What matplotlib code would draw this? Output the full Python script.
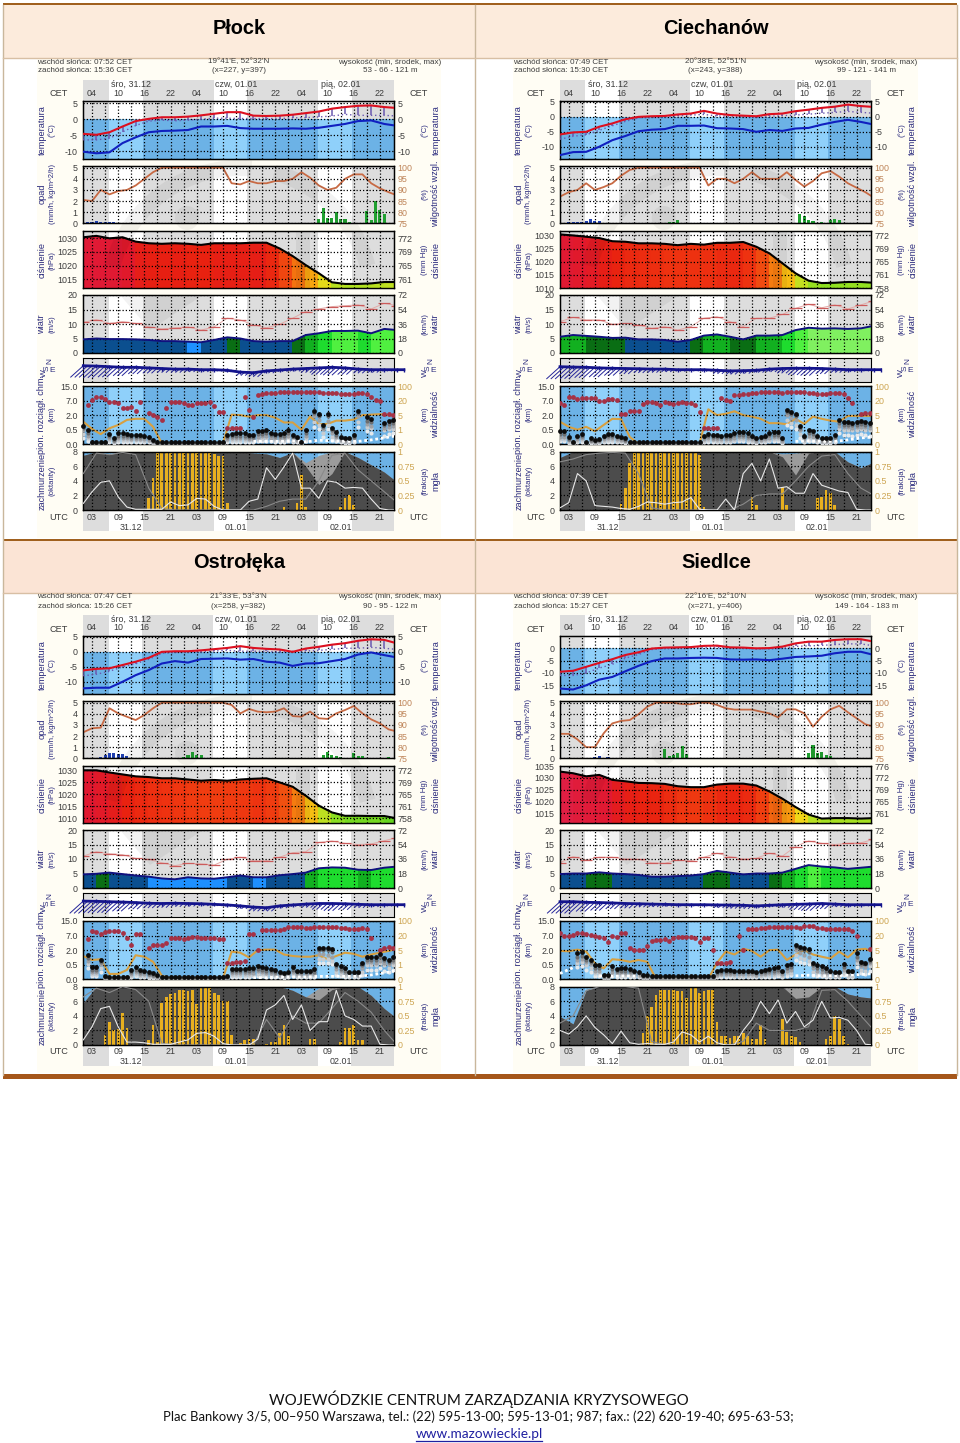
import numpy as np
import matplotlib
matplotlib.use("Agg")
import matplotlib.pyplot as plt
from matplotlib.colors import LinearSegmentedColormap, Normalize, ListedColormap, BoundaryNorm
from matplotlib.patches import Rectangle, Wedge, Polygon
from matplotlib.lines import Line2D

plt.rcParams['font.family'] = ['Liberation Sans', 'DejaVu Sans']

_ = float('nan')

# labels
hours_cet = ['04', '10', '16', '22'] * 3
hours_utc = ['03', '09', '15', '21'] * 3
day_names = ['śro, 31.12', 'czw, 01.01', 'pią, 02.01']
day_dates = ['31.12', '01.01', '02.01']
wind_labels = ['72', '54', '36', '18', '0']
base_ticks = [0, 0.5, 2, 7, 15]
base_labels = ['0.0', '0.5', '2.0', '7.0', '15.0']
vis_ticks = [0, 1, 5, 20, 100]
fog_labels = ['0', '0.25', '0.5', '0.75', '1']
mmhg = {1035: '776', 1030: '772', 1025: '769', 1020: '765', 1015: '761', 1010: '758'}

# Płock
plock_title = 'Płock'
plock_sun = ['07:52', '15:36']
plock_pos = ["19°41'E, 52°32'N", '(x=227, y=397)']
plock_alt = '53 - 66 - 121 m'
plock_temp_ticks = [5, 0, -5, -10]
plock_temp_lim = [-12.4, 5.7]
plock_press_ticks = [1030, 1025, 1020, 1015]
plock_press_lim = [1011.7, 1032.8]
plock_temp = [-4.6, -4.9, -4.1, -2.3, -.6, .1, .6, .6, .8, 1.2, 1.7, 2.2, 2.2, 1.1, 1, 1.1, 1.4, 1.9, 2.4, 3.3, 3.8, 4.2, 4.3, 3.8, 3.5]
plock_dew = [-10.2, -10.7, -10.4, -7.5, -5.7, -4.1, -3.7, -3.6, -3.4, -2.3, -2.3, -2.1, -2.8, -3, -3, -3, -2.9, -3, -2.7, -2.1, -1.5, -.6, -.4, -1.5, -2.1]
plock_low = [-6.5, -6.5, -6, -4, -2, -.6, -.3, -.5, -.3, 0, .3, .3, .2, .2, .2, .2, .4, .5, .7, 1, 1.5, 1.2, 1.2, 1.2, 1]
plock_hum = [85.5, 85, 90, 88, 89.5, 90, 92, 95, 98, 100, 100, 100, 100, 100, 100, 100, 100, 93, 92.5, 94, 93, 93, 94, 94, 95, 98, 95.5, 92, 90, 91, 95, 97, 97, 93, 90.7, 89, 87.5]
plock_press = [1030.4, 1030.9, 1030, 1030.4, 1028.8, 1028.2, 1028, 1028.2, 1028, 1027.6, 1028.2, 1028.2, 1028.2, 1028.4, 1028.4, 1026.3, 1023.5, 1020.2, 1017.2, 1013.9, 1013.3, 1013.3, 1013.5, 1014, 1014]
plock_wind = [4.7, 5, 4.8, 4.8, 4.7, 4.5, 4.1, 4.1, 3.9, 3.7, 4.5, 5.4, 5, 4.1, 3.9, 4.1, 4.1, 6.2, 6.8, 7.6, 7.6, 7.7, 6.8, 8.3, 7.9]
plock_gust = [10.6, 11.5, 10.2, 10.8, 10.2, 9, 8.3, 8.7, 9, 7.9, 9, 12, 11.4, 9.7, 8.7, 9.9, 12, 14.3, 15.2, 16, 16.3, 16.6, 15.2, 17.1, 16.3]
plock_dir = [.33, .3, .25, .2, .2, .15, .1, .05, .05, 0, 0, -.05, -.2, -.25, -.1, -.03, .05, .1, .15, .2, .15, .05, 0, 0, 0]
plock_barb = [.9, .9, .8, .65, .5, .4, .3, .25, .2, .15, .1, .1, .25, .3, .15, .1, .15, .3, .5, .6, .5, .3, .2, .1, .1]
plock_vis = [3.2, 1.2, .7, 1.4, 2.3, 3.7, 4, 4, 1.8, .07, .05, .05, .05, .05, .05, .05, .05, 5.5, 5, 4.6, 5, 5, 4.3, 3, 3, 1, 4.6, 2.5, 2.6, 3.5, 3.5, 3.8, 5, 5.5, 6, 5, 5]
plock_upper = [_, 5.5, 7.3, 9.2, 8.8, 7.6, 6.6, 6.4, 6, 4.3, 4.5, 4.9, 3.5, 6.6, _, 2.6, 2.2, 1.8, 1.5, 4.3, 6.4, 6.4, 6.4, 6, 5.5, 5.5, 6, 6, 6, 6.4, 5.2, 3.2, 3.1, .65, .65, .65, .65, 8.8, 3.8, 1.85, 10, 10.6, 11, 11, 11.4, 11.7] + [11.9] * 9 + [11.3, 11, 11, 11, 10.8, 10.7, 10.6, 10.8, 11, 11, 10.5, 8.8, 7.3, 7, 2.3, 2.3, 2.1]
plock_lower = [.9, .5, .07, .07, .07, .07, .36, .2, .38, .38, .36, .33, .33, .33, .3, .26, .15] + [.07] * 16 + [.33, .36, .38, .38, .38, .33, .33, .45, .47, .5, .4, .36, .36, .38, .5, .32, .26, .09, .5, _, 3.3, 2.5, 1, 2.4, .65, .43, .26, .22, .22, .32, 3.3, _, 1.85, 1.6, _, _, 1.2, 1.35, 1.5]
plock_white = [_] * 13 + [.1, .1, .1, .12, .08, .14, .12, .1, .1, .15, .22, .3]
plock_cloud = [7.5, 8, 7.6, 8, 8, 7.9, 8, 8, 8, 8, 8, 8, 8, 7.8, 7.7, 7.2, 7.9, 6.5, 7.5, 8, 8, 7.2, 6.2, 5.2, 3.8]
plock_dense = [7.5, 8, 7.6, 8, 8, 7.9, 8, 8, 8, 8, 8, 8, 8, 7.8, 7.7, 7.2, 7.9, 6, 3.5, 5, 8, 7.2, 6.2, 5.2, 3.8]
plock_lowline = [.9, 2.5, 3.8, 4, 1.8, .4, .1, .1, .1, .1, 1.1, .6, .7, 1.6, 1.5, .5, 0, 0, 0, 1.2, 1.5, 5.8, 4.2, 5.9, 7.8, 3, 3, 1.6, 4, 3.8, 3, 3.1, 3, 1.5, .2, 0, 0]
plock_midline = [5, 7.8, 7.6, 7.9, 7.6, 3, .2, 0, 0, 0, 0, 0, 0, 0, .5, 1.2, 1.5, 1.5, 4, 7.5, 7.8, 5.5, 4, 2.5, 1]
plock_fog = [0] * 15 + [.2, .55, 1, 1, 1, 1, 1, 1, 1, 1, .98, 1, .98, .98, .97, .96, .93, .93, .12] + [0] * 12 + [.05] + [0] * 2 + [.12, .6, .05] + [0] * 7 + [.05, .2, .25, .08] + [0] * 9
plock_snow_t = [1, 2, 3, 4, 5, 6, 7, 8]
plock_snow = [.02, .08, .15, .2, .15, .1, .15, .1]
plock_rain_t = [25, 26, 55, 56, 57, 58, 59, 60, 61, 62, 63, 65, 66, 67, 68, 69, 70]
plock_rain = [.03, .05, .4, 1.4, .45, .5, 1, .4, .4, .15, .05, .05, 1.1, .3, 2, 1.2, .8]

# Ciechanów
cie_title = 'Ciechanów'
cie_sun = ['07:49', '15:30']
cie_pos = ["20°38'E, 52°51'N", '(x=243, y=388)']
cie_alt = '99 - 121 - 141 m'
cie_temp_ticks = [5, 0, -5, -10]
cie_temp_lim = [-14, 5.3]
cie_press_ticks = [1030, 1025, 1020, 1015, 1010]
cie_press_lim = [1009.9, 1031.8]
cie_temp = [-5.9, -5.2, -5, -3.3, -2.2, -.8, 0, .2, .3, .8, 1.1, 2, 1.1, .6, .4, .2, .9, 1.1, 1.9, 2.4, 3, 3.4, 4.1, 3.6, 3.3]
cie_dew = [-12.8, -11.8, -11.7, -10, -7.8, -6.4, -4.8, -4.3, -4.1, -3, -3, -2.9, -3.8, -3.9, -4.1, -5, -4.4, -4.7, -3.9, -3.7, -2.6, -1.7, -1, -1.7, -2.6]
cie_low = [-7.5, -6.5, -6, -4.5, -3, -1.5, -.3, -.2, 0, .3, .6, .8, .3, .2, .1, -.2, .2, .4, .6, .9, 1.2, 1.5, 1.8, 1.5, 1.2]
cie_hum = [87, 89, 90, 93, 90, 91.3, 93, 96.4, 99, 100, 100, 100, 100, 100, 100, 100, 100, 92, 95, 95, 93, 95, 98, 95, 95, 95, 98, 94.5, 91.5, 94, 97.5, 98.5, 96, 93, 91, 89, 86.5]
cie_press = [1030.4, 1030, 1029.5, 1029, 1027.8, 1027.6, 1027, 1027, 1026.8, 1026.3, 1026.8, 1026.5, 1027.2, 1027.2, 1027.5, 1025.7, 1023.2, 1019.4, 1015.6, 1012.8, 1011.9, 1012, 1012.3, 1012.3, 1012]
cie_wind = [5.6, 6.2, 5.9, 5.6, 5.2, 5.3, 4.7, 4.7, 4.5, 3.9, 4.5, 6, 6.4, 5.6, 4.7, 6, 6, 6.2, 7.9, 8.7, 8.4, 8.5, 8.3, 8.5, 9.4]
cie_gust = [10.8, 12.3, 11.4, 11.4, 9.9, 10.2, 9.7, 8.5, 9.1, 7.9, 9.1, 12, 12.5, 10.8, 9.1, 12, 12, 13.3, 15.4, 16.8, 15.6, 16.6, 15.2, 16.6, 18]
cie_dir = [.25, .22, .2, .15, .12, .1, .08, .05, .05, 0, 0, 0, -.05, -.1, -.08, -.05, .05, .1, .12, .12, .1, .05, 0, 0, 0]
cie_barb = [.95, .9, .8, .7, .55, .4, .3, .25, .2, .12, .1, .12, .25, .25, .2, .15, .2, .35, .5, .55, .4, .25, .15, .1, .1]
cie_vis = [3.2, 1.8, 1, 1.8, .9, 2.3, 4, 3.9, .5, .02, .03, .03, .03, .03, .03, .03, .05, 11, 5, 6.4, 9, 5, 4.6, 4, 2.8, 2.8, 2.5, 4, 2.6, 4.6, 4, 3.5, 3.2, 4.8, 4.8, 4.8, 4.8]
cie_upper = [6.2, 5.5, 9.2, 9.2, 7.8, 8.6, 8.6, 8.6, 8.2, 7, 7, 7.8, 7.8, 7.3, 2.4, 2.4, 3.3, 3.3, 3.3, 5.7, 6.6, 6.4, 6.2, 5.5, 6.4, 6, 5.8, 6.2, 6.4, 6.1, 6, 5.5, 3.2, .65, .65, .65, .7, 8.2, 7.3, 7, 9.8, 10.3, 10.6, 10.8, 11, 11.3] + [11.9] * 5 + [11, 11.5, 11.5, 11.7, 11.9, 11.9, 11, 11, 10.8, 10.8, 10.8, 11, 11, 11, 10.8, 8.6, 6, _, 2.5, 2.7, 2.8]
cie_lower = [.45, .45, .24, .09, .3, .36, .07, .2, .15, .18, .3, .35, .35, .3, .26, .2, .09] + [.07] * 16 + [.3, .36, .33, .32, .3, .32, .32, .4, .42, .42, .38, .3, .22, .26, .3, .4, .42, .42, .22, 3.8, 3, 2.5, .9, .3, .5, .45, .3, .22, .2, .2, .32, 1.5, 1.3, 1.3, 1.2, 1.3, 1.4, 1.3, 1.2]
cie_white = [_] * 18 + [.1, .12, .1, .1, .15, .22, .25]
cie_cloud = [7.2, 8, 8, 8, 8, 8, 8, 8, 8, 8, 8, 8, 8, 8, 8, 8, 8, 7.7, 7.8, 8, 8, 8, 6.6, 5.8, 6.6]
cie_dense = [7.2, 8, 8, 8, 8, 8, 8, 8, 8, 8, 8, 8, 8, 8, 8, 8, 8, 7.3, 4.8, 7.8, 8, 8, 6.6, 5.8, 6.6]
cie_lowline = [.3, 1, 5, 4, .6, .5, .4, .2, .1, .5, 1.1, 1, .8, 1, 1.1, 1.7, .1, 0, 0, 1.5, 0, 5, 6.4, 4, 7, 3, 3.2, 2.3, 2.3, 5, 3.4, 3, 2.6, 2.4, .1, 0, 0]
cie_midline = [6.6, 7, 7.6, 7.8, 7.9, 7.8, 5, .3, 0, 0, 0, 0, 0, 0, .8, 2, 2.2, 2.2, 4, 6, 7.4, 7.6, 5, 3, 2]
cie_fog = [0] * 14 + [.1, .38, .8] + [1, 1, 1, 1, 1, 1, 1, 1, 1, 1, 1, 1, .98, .98, .97] + [.95, .05] + [0] * 10 + [.22, .08] + [0] * 5 + [.4, .08] + [0] * 6 + [.2, .22, .35, .3, .08] + [0] * 8
cie_snow_t = [2, 3, 4, 5, 6, 7, 8, 9, 10, 11]
cie_snow = [.05, .1, .12, .1, .15, .2, .4, .25, .2, .05]
cie_rain_t = [24, 25, 26, 27, 28, 56, 57, 58, 59, 60, 61, 62, 63, 64, 65]
cie_rain = [.03, .05, .1, .15, .3, .85, .7, .3, .2, .05, .15, .05, .3, .4, .3]

# Ostrołęka
ost_title = 'Ostrołęka'
ost_sun = ['07:47', '15:26']
ost_pos = ["21°33'E, 53°3'N", '(x=258, y=382)']
ost_alt = '90 - 95 - 122 m'
ost_temp_ticks = [5, 0, -5, -10]
ost_temp_lim = [-14, 5.3]
ost_press_ticks = [1030, 1025, 1020, 1015, 1010]
ost_press_lim = [1008, 1031.8]
ost_temp = [-6.2, -5.7, -5.5, -4.4, -3.3, -2, 0, .2, .2, .5, .9, 1.3, 1.9, 1.3, 1, .8, 0, 1.1, 1.7, 2.4, 2.9, 3.7, 4.2, 4, 2.8]
ost_dew = [-12.2, -12, -12, -10, -7.8, -6.1, -3.9, -3.1, -3.6, -2.4, -2.3, -2.2, -2.6, -2.4, -3.3, -3.6, -4.7, -3.9, -3.8, -3.1, -2.4, -.9, -.2, -1.1, -1.9]
ost_low = [-8, -7.5, -6.5, -5, -4, -2.5, -.5, -.2, 0, 0, .3, .5, .2, .2, .2, -.1, .2, .3, .5, .8, 1.2, 1.2, 1.5, 1.2, .8]
ost_hum = [86.7, 88.5, 88.8, 97.5, 95.2, 93.7, 92.2, 94.5, 97.5, 100, 100, 100, 100, 100, 100, 100, 100, 99, 95.2, 97.2, 96, 95.7, 96, 97.5, 94, 93.7, 96, 93, 92.7, 95.2, 96.7, 98.5, 95.2, 92.5, 90.7, 88, 87]
ost_press = [1029.9, 1029.9, 1029, 1028.2, 1027.4, 1027.1, 1026.6, 1026.6, 1026.1, 1025.6, 1025.9, 1025.6, 1026.1, 1026.4, 1026.6, 1024.9, 1023.1, 1019.4, 1015.3, 1012.5, 1011.1, 1011.1, 1011, 1011, 1010]
ost_wind = [4.7, 4.9, 5.3, 4.8, 4.3, 3.9, 3.3, 3, 3.7, 3.3, 3.2, 3.7, 4.3, 3.7, 3.7, 4.4, 4.8, 5.3, 6.8, 7.1, 7, 6.3, 6.2, 7, 7.4]
ost_gust = [11, 12.5, 11.8, 11.5, 10.2, 9.9, 8.7, 7.7, 8.5, 8.3, 7.9, 9.9, 10.6, 9.4, 9.4, 10.6, 12.2, 12.5, 15.7, 16.2, 15.4, 15, 15.2, 16.3, 17.4]
ost_dir = [.3, .28, .25, .22, .18, .12, .1, .12, .1, .08, .03, -.02, -.1, -.2, -.25, -.1, -.02, .05, .1, .1, .08, .03, 0, 0, 0]
ost_barb = [.95, .9, .85, .7, .5, .35, .3, .25, .2, .15, .1, .1, .2, .3, .25, .15, .1, .25, .45, .55, .45, .25, .15, .1, .1]
ost_vis = [3.4, 2.3, 2.5, .37, .37, .64, 3.6, 3.2, 1.8, .25, .05, .05, .05, .05, .05, .05, .05, 4.6, 4.3, 3, 5, 5.5, 5.5, 3.8, 3.4, 3.2, 3.2, 3.6, 2.5, 3.4, 4.3, 4, 3.2, 3.8, 4.3, 4.8, 6.4]
ost_upper = [_, 5.7, 9.6, 9.2, 7.8, 9, 9.4, 9.4, 9.4, 8.2, 6.2, 3.8, 8, 8, _, 2.6, 3.8, 3.8, 3.6, 4.5, 6.2, 6.2, 6, 5.8, 6.2, 6.4, 6.4, 6.2, 6.2, 6.2, 6, 5.8, 5.7, .65, .7, .75, .8, .9, 7.8, 7.8, 2, 9.8, 10, 10, 10.3, 10.3, 10.5, 11.5, 11.7, 11.9, 11.7, 11.2, 11.2, 11.5, 11.7, 11.7, 11.7, 11.7, 11.7, 11.2, 11, 10.8, 10.8, 10.8, 11, 10.6, 6.2, _, 2.1, 2.7, 3.2, 2.6]
ost_lower = [_, 1.5, .43, .43, 1, .12, .09, .09, .09, .09, .09, .32, .43, .32, .3, .24, .2, .15] + [.09] * 15 + [.1, .36, .36, .36, .36, .38, .4, .47, .42, .38, .36, .33, .26, .22, .26, .42, .3, .3, .3, .3, .34, 2.7, 2.7, 2.6, 2.3, .6, .47, .38, .26, .26, .26, .65, 1.3, 1.3, 1.25, 1.6, 1.2, 1, 1.3]
ost_white = [_] * 13 + [.05, .05, .08, .08, .08, .1, .1, .1, .1, .15, .22, .3]
ost_cloud = [5.8, 8, 8, 8, 8, 8, 8, 8, 8, 8, 8, 8, 8, 8, 8, 8, 7.5, 6.6, 7.8, 8, 8, 8, 6.8, 5, 3.6]
ost_dense = [5.8, 8, 8, 8, 8, 8, 8, 8, 8, 8, 8, 8, 8, 8, 8, 8, 7.5, 6.6, 6.2, 7.6, 8, 8, 6.8, 5, 3.6]
ost_lowline = [.7, 2.5, 5, 5.3, 2.5, .4, .4, .3, .1, .1, .1, .4, .7, 1.6, 1.7, 1.2, .2, 0, 0, 0, .8, 4.8, 5.5, 6.8, 3.5, 5.5, 2, 3.2, 3.2, 7.5, 4, 3.5, 2.6, 2.6, .1, 0, 0]
ost_midline = [6.6, 7.8, 7.2, 8, 7.6, 6, .2, 0, 0, 0, 0, 0, 0, 0, 3.5, 1, 4, 3, 3, 5, 7.2, 6, 4.5, 2, 0]
ost_fog = [0] * 5 + [.18, .4, .25, .27, .55, .3] + [0] * 4 + [.08, .35, .05, .72, .82, .88, .9, .95, .95, .92, .95, .7, .98, 1, .98, .9, .85, .75, .75, .18] + [0] + [.03, .08, .1, .1] + [0] * 2 + [.02, .05, .05, .2, .35, .15] + [0] * 4 + [.1, .1] + [0] * 5 + [.05, .3, .3, .35, .08, .08] + [0] * 7
ost_snow_t = [3, 4, 5, 6, 7, 8, 9, 10, 11]
ost_snow = [.05, .05, .1, .3, .5, .5, .35, .4, .25]
ost_rain_t = [23, 24, 25, 26, 27, 28, 56, 57, 58, 59, 60, 63, 64, 65, 71]
ost_rain = [.05, .1, .3, .55, .3, .3, .3, .6, .3, .2, .1, .5, .2, .2, .1]

# Siedlce
sie_title = 'Siedlce'
sie_sun = ['07:39', '15:27']
sie_pos = ["22°16'E, 52°10'N", '(x=271, y=406)']
sie_alt = '149 - 164 - 183 m'
sie_temp_ticks = [0, -5, -10, -15]
sie_temp_lim = [-18.4, 5]
sie_press_ticks = [1035, 1030, 1025, 1020, 1015]
sie_press_lim = [1010.8, 1035.2]
sie_temp = [-9.5, -9.1, -7.5, -5.9, -4.4, -2.7, -1.6, -.1, .3, .4, .5, 1, 1.1, .4, .3, 0, .1, .7, 2, 2.7, 2.7, 3.4, 3.7, 3.7, 2.7]
sie_dew = [-16.3, -16.7, -15, -12.7, -11.6, -9.3, -7.1, -5.2, -4.1, -4.1, -3.9, -3.8, -3.9, -4.5, -4.6, -4.5, -4.8, -4.2, -3.5, -3.3, -3, -2, -1.4, -1.4, -2.7]
sie_low = [-11, -11, -10, -8, -6.5, -4, -2.5, -.5, -.1, .1, .2, .4, .4, .2, .1, -.3, -.2, 0, .8, 1, 1.2, 1.5, 1.8, 1.8, 1]
sie_hum = [86, 86, 83.5, 80, 80, 86.2, 90.7, 91.8, 92.2, 94.8, 98.2, 100, 100, 100, 99.4, 99.3, 100, 100, 99, 97.5, 96.9, 96.9, 96.9, 96, 95.2, 93.4, 97, 97, 95.2, 89.2, 93.7, 97, 98.6, 95.7, 93, 90.3, 89.2]
sie_press = [1032.7, 1032, 1030.7, 1031.3, 1029.2, 1028.6, 1027.9, 1027.8, 1027.5, 1026.5, 1026.1, 1026.1, 1027.2, 1027.6, 1027.6, 1026.8, 1024.3, 1021.2, 1017.7, 1014.5, 1012.8, 1013, 1013, 1012.8, 1013]
sie_wind = [4.8, 5, 5, 5.4, 5, 4.8, 4.5, 3.9, 3.9, 4.1, 4.3, 4.8, 5.9, 5.3, 4.7, 5, 5, 5.3, 6.6, 7.9, 7.4, 7.1, 6.6, 7, 7.4]
sie_gust = [8.7, 10.8, 9.7, 10.6, 10.6, 10, 9.9, 8.7, 8.5, 9.7, 9.4, 10.6, 12, 10.8, 10, 10.2, 12, 11, 14.3, 16.2, 15.4, 15, 15.4, 15.6, 16.8]
sie_dir = [.25, .25, .2, .18, .15, .1, .08, .05, .03, 0, 0, 0, -.02, -.03, -.05, -.1, -.05, 0, .03, .06, .1, .05, 0, 0, 0]
sie_barb = [.9, .9, .7, .6, .45, .35, .25, .2, .15, .1, .1, .1, .2, .25, .25, .15, .1, .2, .4, .5, .4, .2, .15, .1, .05]
sie_vis = [4.8, 4.7, 5.5, 4.6, 1.4, .75, 2.5, 2.3, 1.8, 2.3, 1.8, .03, .03, .03, .03, .03, .03, .03, 1.5, 4.6, 3.8, 6.4, 4.8, 3.2, 5, 5.5, 2.3, 3.8, 5, 3.8, 3.2, 2.7, 4.6, 3, 5.5, 6.4, 4.3]
sie_upper = [8.2, 7, 7, 7.3, 8.2, 8.6, 7.6, 7.3, 7, 6.6, 6.2, 4.9, 6.8, 6.6, 8.6, 8.2, 2.6, 2.1, 2.1, 2, 3.5, 5.3, 5.4, 5.5, 5.7, 5.1, 6.2, 6.4, 6.4, 6.5, 6.5, 6, 4.9, 6, 6.2, 2, .65, .65, .7, .8, _, 6.8, 2.1, 10.6, 10.6, 10.6, 11, 11.2, 11.6, 11.8, 11.8, 11.8, 11.8, 11.8, 11.8, 11.2, 12.5, 12.5, 12, 11, 11, 10.8, 10.8, 10.8, 10.8, 10.8, 10.8, 9.6, 7, _, _, 2.3]
sie_lower = [_, _, _, _, 1.7, 1.85, 1.3, .95, .5, .5, .15, .15, .45, .36, .38, .38, .36, .3, .26, .15, .15, .1] + [.1] * 14 + [.28, .33, .33, .33, .3, .3, .3, .3, .3, .26, .3, .33, .36, .38, .42, .3, .5, .55, 3.8, 3, 2.6, 2.3, .65, .5, .45, .38, .3, .26, .26, .55, .3, .3, 1.7, .8, .7, 1.1]
sie_white = [.2, .4, _, .12, .1, .12, .1] + [_] * 11 + [.12, .14, .12, .12, .14, .16, .2]
sie_cloud = [3.9, 2.9, 7.5] + [8] * 19 + [7, 6.6, 6.4]
sie_dense = [3.9, 2.9, 7.5] + [8] * 15 + [6.4, 6.6] + [8] * 2 + [7, 6.6, 6.4]
sie_lowline = [2, 1.5, 2.5, 4, 2.4, 1.4, .2, 1.9, .3, .1, .2, .1, .1, .4, 1.8, 1.4, .4, 1.2, .3, 0, 0, 2, 3.5, 6, 4.3, 6.2, 3, 4.6, 2.5, 3.4, 6, 3.7, 3.8, 3.4, 2, .1, 0]
sie_midline = [3, 4, 7.5, 8, 8, 8, 7.8, .5, 0, 0, 0, 0, 0, 0, .5, 3, 2, 2, 2, 2.5, 7.5, 7.6, 6, 4, 2]
sie_fog = [0] * 19 + [.2, .5, .65, .85, .95, .95, .95, .95, .93, .93, .8, .98, .98, .9, .92, .95, .95, .4, .15, .15, .12, .15, .15, .2, .15, .1, .1, .35, .1] + [0] * 3 + [.45, .22, .15, .13, .05] + [0] * 5 + [.1, .15, .5, .45, .15, .02] + [0] * 5
sie_snow_t = [9, 10, 11, 12]
sie_snow = [.1, .2, .05, .12]
sie_rain_t = [24, 25, 26, 27, 28, 29, 30, 58, 59, 60, 61, 62, 63, 64]
sie_rain = [.05, .8, .2, .3, .5, 1.1, .4, .5, 1.2, .5, .6, .3, .2, .05]

W, H = 960, 1443
fig = plt.figure(figsize=(W / 100, H / 100), dpi=100, facecolor='white')

TX = (1, 72.3)
NAVY = '#2B2B7E'
GREY = '#3C3C3C'
TAN = '#BE8458'
GOLD = '#CDA552'
GRID = dict(color='black', ls=(0, (1, 1.6)), lw=0.9)

press_cmap = LinearSegmentedColormap.from_list('press', [
    (0, '#58D020'), (2 / 23, '#90E020'), (4 / 23, '#C0E020'), (6 / 23, '#F0D818'), (8 / 23, '#F8B010'),
    (11 / 23, '#F58010'), (14 / 23, '#F05010'), (16 / 23, '#F03A10'), (18 / 23, '#E82010'),
    (20 / 23, '#E01830'), (1, '#E02048')])
press_norm = Normalize(1010, 1033)
wind_cmap = ListedColormap(['#1E90FF', '#0B4F8F', '#0A6E14', '#12B020', '#1EDC2E', '#50F040', '#80F060'])
wind_norm = BoundaryNorm([0, 3.85, 5.1, 5.9, 6.6, 7.5, 8.4, 25], 7)


def fwd(ticks):
    pos = np.arange(len(ticks), dtype=float)
    return lambda v: np.interp(v, ticks, pos)


def inv(ticks):
    pos = np.arange(len(ticks), dtype=float)
    return lambda v: np.interp(v, pos, ticks)


def px_axes(x0, y0, x1, y1, z=1):
    a = fig.add_axes([x0 / W, 1 - y1 / H, (x1 - x0) / W, (y1 - y0) / H])
    a.set_zorder(z)
    a.set_xlim(*TX)
    return a


page = fig.add_axes([0, 0, 1, 1], zorder=0)
page.set_xlim(0, W)
page.set_ylim(H, 0)
page.axis('off')
over = fig.add_axes([0, 0, 1, 1], zorder=20)
over.set_xlim(0, W)
over.set_ylim(H, 0)
over.axis('off')
over.patch.set_alpha(0)


def sun_spans(sun):
    rise = int(sun[0][:2]) + int(sun[0][3:]) / 60 - 1
    sett = int(sun[1][:2]) + int(sun[1][3:]) / 60 - 1
    edges = [1, rise, sett, rise + 24, sett + 24, rise + 48, sett + 48, TX[1]]
    return [(edges[i], edges[i + 1], i % 2 == 1) for i in range(7)]


def paint(a, spans, night, day, lo=None, hi=None):
    y0, y1 = a.get_ylim()
    lo = y0 if lo is None else lo
    hi = y1 if hi is None else hi
    for t0, t1, is_day in spans:
        a.fill_between([t0, t1], lo, hi, color=day if is_day else night, lw=0, zorder=0.5)


def panel(box, ylim, ticks, labels, rticks, rlabels, rcolor=GREY, rlim=None, scale=None, rscale=None):
    # right axes sits below: background and right-hand series; left axes on top with the grid
    x0, y0, x1, y1 = box
    rax = px_axes(x0, y0, x1, y1, z=2)
    ax = px_axes(x0, y0, x1, y1, z=3)
    ax.patch.set_visible(False)
    if scale:
        ax.set_yscale('function', functions=(fwd(scale), inv(scale)))
    ax.set_ylim(*ylim)
    if rscale:
        rax.set_yscale('function', functions=(fwd(rscale), inv(rscale)))
    rax.set_ylim(*(rlim if rlim else ylim))
    ax.set_yticks(ticks)
    ax.set_yticklabels(labels)
    ax.minorticks_off()
    rax.minorticks_off()
    rax.set_xticks([])
    rax.yaxis.tick_right()
    rax.set_yticks(rticks)
    rax.set_yticklabels(rlabels)
    ax.set_xticks(np.arange(3, 72, 3))
    ax.tick_params(axis='x', length=0, labelbottom=False)
    ax.tick_params(axis='y', length=0, labelsize=6.4, pad=4, labelcolor=GREY)
    rax.tick_params(axis='y', length=0, labelsize=6.4, pad=2.5, labelcolor=rcolor)
    ax.grid(True, **GRID)
    ax.set_axisbelow(False)
    for s in ax.spines.values():
        s.set_linewidth(1.0)
    return ax, rax


def fill_segments(ax, t, v, bottom, cmap, norm):
    for i in range(len(v) - 1):
        ax.fill_between(t[i:i + 2], v[i:i + 2], bottom, facecolor=cmap(norm((v[i] + v[i + 1]) / 2)),
                        lw=0, antialiased=False, zorder=1)


def vtext(x, y, s, color=NAVY, size=6.6):
    over.text(x, y, s, rotation=90, ha='center', va='center', fontsize=size, color=color)


def meteogram(key, dx, dy):
    g = lambda name: globals()[f'{key}_{name}']
    X0, X1 = 83.3 + dx, 394.3 + dx
    spans = sun_spans(g('sun'))
    page.add_patch(Rectangle((36.5 + dx, 58 + dy), 404.5, 480, color='#FFFDF4', lw=0))

    t3 = 1 + 3 * np.arange(25)
    temp, dew, low = np.array(g('temp')), np.array(g('dew')), np.array(g('low'))

    # day / night header bands
    for y0, y1, labs, rows in ((80, 101, hours_cet, day_names), (510, 531, hours_utc, day_dates)):
        band = px_axes(X0, y0 + dy, X1, y1 + dy)
        band.set_ylim(0, 1)
        band.axis('off')
        paint(band, spans, '#DDDDDD', '#FFFFFF')
    for i, lab in enumerate(hours_cet):
        tx = 3 + 6 * i
        px = 92 + dx + (tx - 3) * 4.362
        over.text(px, 93 + dy, lab, ha='center', va='center', fontsize=6.4, color=GREY)
        over.text(px, 517 + dy, hours_utc[i], ha='center', va='center', fontsize=6.4, color=GREY)
    for i in range(3):
        px = 131 + dx + i * 104.7
        over.text(px, 84.5 + dy, day_names[i], ha='center', va='center', fontsize=6.4, color=GREY)
        over.text(px, 527 + dy, day_dates[i], ha='center', va='center', fontsize=6.4, color=GREY)
    for s, y in (('CET', 94), ('UTC', 517)):
        over.text(58.5 + dx, y + dy, s, ha='center', va='center', fontsize=6.6, color=GREY)
        over.text(418.5 + dx, y + dy, s, ha='center', va='center', fontsize=6.6, color=GREY)

    # header text
    rise, sett = g('sun')
    over.text(132 + dx, 62 + dy, f'wschód słońca: {rise} CET', ha='right', va='center', fontsize=5.8, color=GREY)
    over.text(132 + dx, 71 + dy, f'zachód słońca: {sett} CET', ha='right', va='center', fontsize=5.8, color=GREY)
    over.text(238.5 + dx, 62 + dy, g('pos')[0], ha='center', va='center', fontsize=5.8, color=GREY)
    over.text(238.5 + dx, 71 + dy, g('pos')[1], ha='center', va='center', fontsize=5.8, color=GREY)
    over.text(441 + dx, 62 + dy, 'wysokość (min, środek, max)', ha='right', va='center', fontsize=5.8, color=GREY)
    over.text(390 + dx, 71 + dy, g('alt'), ha='center', va='center', fontsize=5.8, color=GREY)

    # temperature
    ticks = g('temp_ticks')
    ax, rax = panel((X0, 101 + dy, X1, 158.7 + dy), g('temp_lim'), ticks, [str(v) for v in ticks], ticks, [str(v) for v in ticks])
    paint(rax, spans, '#DDDDDD', '#FFFFFF')
    paint(rax, spans, '#6CB2E6', '#8FD0FA', hi=0)
    ax.vlines(t3, low, temp, colors='#6A58B0', lw=1.1, zorder=3)
    ax.plot(t3, low, color='#6A58B0', lw=1.0, ls=(0, (1, 2)), zorder=3)
    ax.plot(t3, temp, color='#DC1020', lw=1.5, zorder=4)
    ax.plot(t3, dew, color='#1020C0', lw=1.5, zorder=4)

    # precipitation and humidity
    t2 = 1 + 2 * np.arange(37)
    ax, rax = panel((X0, 165.7 + dy, X1, 223.3 + dy), (0, 5.18), [0, 1, 2, 3, 4, 5], list('012345'),
                    [75, 80, 85, 90, 95, 100], ['75', '80', '85', '90', '95', '100'], TAN, rlim=(75, 100.9))
    paint(rax, spans, '#DDDDDD', '#FFFFFF')
    rax.plot(t2, g('hum'), color='#C86A44', lw=1.3, zorder=3)
    ax.bar(g('snow_t'), g('snow'), width=0.7, color='#2040B0', lw=0, zorder=2)
    ax.bar(g('rain_t'), g('rain'), width=0.7, color='#20A030', lw=0, zorder=2)

    # pressure
    ticks = g('press_ticks')
    ax, rax = panel((X0, 230.7 + dy, X1, 288.3 + dy), g('press_lim'), ticks, [str(v) for v in ticks], ticks, [mmhg[v] for v in ticks])
    paint(rax, spans, '#DDDDDD', '#FFFFFF')
    press = np.array(g('press'), dtype=float)
    fill_segments(ax, t3, press, g('press_lim')[0], press_cmap, press_norm)
    ax.plot(t3, press, color='black', lw=1.5, zorder=4)

    # wind
    ax, rax = panel((X0, 295 + dy, X1, 353 + dy), (0, 20), [0, 5, 10, 15, 20], ['0', '5', '10', '15', '20'],
                    [0, 5, 10, 15, 20], wind_labels[::-1])
    paint(rax, spans, '#DDDDDD', '#FFFFFF')
    wind, gust = np.array(g('wind'), dtype=float), np.array(g('gust'), dtype=float)
    fill_segments(ax, t3, wind, 0, wind_cmap, wind_norm)
    ax.plot(t3, wind, color='#10107E', lw=1.4, zorder=4)
    rax.plot(t3, gust, color='#E3AAA8', lw=0.7, zorder=2)
    rax.hlines(gust, t3 - 1.4, t3 + 1.4, colors='#CC5C5C', lw=0.9, zorder=3)

    # wind direction
    dax = px_axes(X0, 357.7 + dy, X1, 381.7 + dy, z=3)
    dax.set_ylim(-1, 1)
    paint(dax, spans, '#DDDDDD', '#FFFFFF')
    dax.set_xticks(np.arange(3, 72, 3))
    dax.set_yticks([])
    dax.tick_params(axis='x', length=0, labelbottom=False)
    dax.grid(True, axis='x', **GRID)
    dirs, barb = g('dir'), g('barb')
    for tv, d, b in zip(t3, dirs, barb):
        for s in (0, 1, 2):
            if tv + s > 73.6:
                continue
            dax.plot([tv + s, tv + s - 3.2 * b], [d, d - 1.05 * b], color='#25259A', lw=0.7, clip_on=False, zorder=3)
    dax.plot(np.append(t3, 74.5), np.append(dirs, 0), color='#14148C', lw=2.0, clip_on=False, zorder=4, marker='|', ms=3)

    # cloud base and visibility
    ax, rax = panel((X0, 386 + dy, X1, 444.3 + dy), (0, 15), base_ticks, base_labels, vis_ticks,
                    ['0', '1', '5', '20', '100'], GOLD, rlim=(0, 100), scale=base_ticks, rscale=vis_ticks)
    paint(rax, spans, '#6CB2E6', '#8FD0FA')
    rax.plot(t2, g('vis'), color='#D8A040', lw=1.5, zorder=3)
    lower = np.array(g('lower'), dtype=float)
    th_low = 1 + np.arange(len(lower))
    for frac, col in ((.25, '#E4E8EC'), (.4, '#C8CCD0'), (.58, '#9EA0A4'), (.78, '#6C6E70')):
        ax.scatter(th_low, lower * frac, s=9, color=col, lw=0, zorder=3)
    ax.plot(t3, g('white'), color='white', lw=2, ls=(0, (1, 1)), zorder=3)
    upper = np.array(g('upper'), dtype=float)
    ax.scatter(1 + np.arange(len(upper)), upper, s=12, color='#A53246', lw=0, zorder=4)
    ax.scatter(th_low, lower, s=12, color='#0C0C0C', lw=0, zorder=4, clip_on=False)

    # cloud cover and fog
    ax, rax = panel((X0, 451.7 + dy, X1, 510 + dy), (0, 8), [0, 2, 4, 6, 8], list('02468'),
                    [0, .25, .5, .75, 1], fog_labels, GOLD, rlim=(0, 1))
    paint(rax, spans, '#6CB2E6', '#8FD0FA')
    ax.fill_between(t3, g('cloud'), color='#9C9C9C', lw=0, zorder=1)
    ax.fill_between(t3, g('dense'), color='#4C4C4C', lw=0, zorder=1.2)
    fog = np.array(g('fog'), dtype=float)
    ax.bar(1 + np.arange(len(fog)), fog * 8, width=0.62, color='#E8B020', lw=0, zorder=2)
    ax.plot(t3, g('midline'), color='#8A8A8A', lw=0.8, zorder=3)
    ax.plot(t2, g('lowline'), color='#E8E8E8', lw=0.8, zorder=3)

    # axis captions
    caps = [(130, 'temperatura', '(°C)', '(°C)', 'temperatura'),
            (194, 'opad', '(mm/h, kg/m^2/h)', '(%)', 'wilgotność wzgl.'),
            (260, 'ciśnienie', '(hPa)', '(mm Hg)', 'ciśnienie'),
            (324, 'wiatr', '(m/s)', '(km/h)', 'wiatr'),
            (414, 'pion. rozciągł. chm.', '(km)', '(km)', 'widzialność'),
            (481, 'zachmurzenie', '(oktanty)', '(frakcja)', 'mgła')]
    for y, l1, l2, r1, r2 in caps:
        vtext(42 + dx, y + dy, l1)
        vtext(52 + dx, y + dy, l2, size=5.6)
        vtext(425 + dx, y + dy, r1, size=5.6)
        vtext(436 + dx, y + dy, r2)
    for off in (0, 381):
        for lx, ly, s in ((44, 373, 'W'), (47, 368, 'S'), (50, 361, 'N'), (52, 370, 'E')):
            over.text(lx + off + dx, ly + dy, s, rotation=90 if s != 'E' else 0, ha='center', va='center', fontsize=6, color=NAVY)

    # faint logo behind the panels
    shade = dict(color='black', alpha=0.05, lw=0)
    over.add_patch(Wedge((240 + dx, 300 + dy), 140, 195, 275, width=16, **shade))
    over.add_patch(Wedge((240 + dx, 300 + dy), 140, 285, 345, width=16, **shade))
    over.add_patch(Wedge((187 + dx, 218 + dy), 12, 0, 360, **shade))
    over.add_patch(Polygon([(120 + dx, 295 + dy), (203 + dx, 295 + dy), (150 + dx, 330 + dy)], **shade))
    over.add_patch(Rectangle((296 + dx, 232 + dy), 14, 55, **shade))


# table
BROWN = '#A0601E'
LINE = '#C9B79C'
page.add_patch(Rectangle((3, 5), 954, 52.5, color='#FCEBDC', lw=0))
page.add_patch(Rectangle((3, 540), 954, 52.5, color='#FBE4D5', lw=0))
for x in (3, 475, 957):
    page.plot([x, x], [5, 1075], color=LINE, lw=1)
for y in (57.5, 592.5):
    page.plot([3, 957], [y, y], color='#D8BFA4', lw=1)
page.add_patch(Rectangle((3, 3), 954, 2.2, color=BROWN, lw=0))
page.add_patch(Rectangle((3, 538.5), 954, 2.2, color=BROWN, lw=0))
page.add_patch(Rectangle((3, 1074), 954, 5, color='#A5561A', lw=0))

for title, cx, cy in ((plock_title, 239, 28), (cie_title, 715.5, 28), (ost_title, 239, 563), (sie_title, 716, 563)):
    over.text(cx, cy, title, ha='center', va='center', fontsize=14.4, fontweight='bold', color='black')

meteogram('plock', 0, 0)
meteogram('cie', 476.7, 0)
meteogram('ost', 0, 535)
meteogram('sie', 476.7, 535)

# footer
over.text(478.5, 1399, 'WOJEWÓDZKIE CENTRUM ZARZĄDZANIA KRYZYSOWEGO', ha='center', va='center', fontsize=10.9, family='Lato', color='#111111')
over.text(478.5, 1417, 'Plac Bankowy 3/5, 00–950 Warszawa, tel.: (22) 595-13-00; 595-13-01; 987; fax.: (22) 620-19-40; 695-63-53;', ha='center', va='center', fontsize=9.4, family='Lato', color='#111111')
over.text(479, 1434, 'www.mazowieckie.pl', ha='center', va='center', fontsize=9.8, family='Lato', color='#1F1FA0')
over.add_line(Line2D([416, 542], [1441, 1441], color='#1F1FA0', lw=0.9))

fig.savefig('out.png', dpi=100)
